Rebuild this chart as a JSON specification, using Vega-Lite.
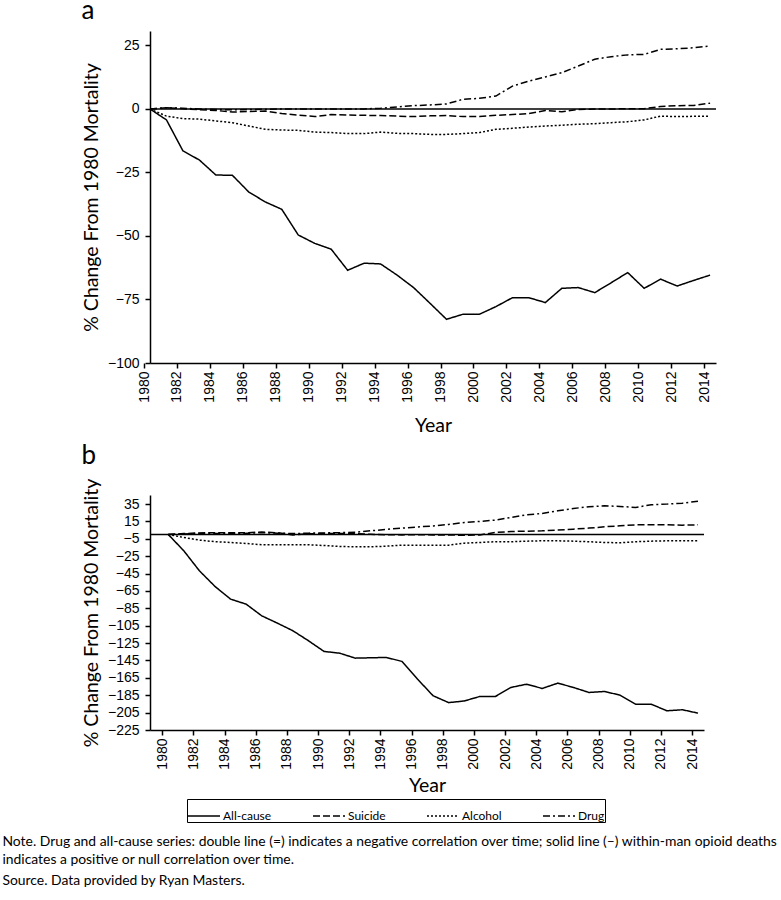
{
  "$schema": "https://vega.github.io/schema/vega-lite/v6.json",
  "padding": {"left": 2, "top": -2, "right": 0, "bottom": 4},
  "background": "white",
  "datasets": {
    "panelA": [
      {"year":1980,"series":"All-cause","value":0},{"year":1981,"series":"All-cause","value":-4.3},{"year":1982,"series":"All-cause","value":-16.5},{"year":1983,"series":"All-cause","value":-20.1},{"year":1984,"series":"All-cause","value":-26},{"year":1985,"series":"All-cause","value":-26.1},{"year":1986,"series":"All-cause","value":-32.7},{"year":1987,"series":"All-cause","value":-36.6},{"year":1988,"series":"All-cause","value":-39.5},{"year":1989,"series":"All-cause","value":-49.6},{"year":1990,"series":"All-cause","value":-52.9},{"year":1991,"series":"All-cause","value":-55.2},{"year":1992,"series":"All-cause","value":-63.5},{"year":1993,"series":"All-cause","value":-60.7},{"year":1994,"series":"All-cause","value":-61},{"year":1995,"series":"All-cause","value":-65.4},{"year":1996,"series":"All-cause","value":-70.3},{"year":1997,"series":"All-cause","value":-76.5},{"year":1998,"series":"All-cause","value":-82.8},{"year":1999,"series":"All-cause","value":-80.8},{"year":2000,"series":"All-cause","value":-80.8},{"year":2001,"series":"All-cause","value":-77.8},{"year":2002,"series":"All-cause","value":-74.3},{"year":2003,"series":"All-cause","value":-74.3},{"year":2004,"series":"All-cause","value":-76.2},{"year":2005,"series":"All-cause","value":-70.6},{"year":2006,"series":"All-cause","value":-70.3},{"year":2007,"series":"All-cause","value":-72.3},{"year":2008,"series":"All-cause","value":-68.4},{"year":2009,"series":"All-cause","value":-64.4},{"year":2010,"series":"All-cause","value":-70.6},{"year":2011,"series":"All-cause","value":-67},{"year":2012,"series":"All-cause","value":-69.7},{"year":2013,"series":"All-cause","value":-67.5},{"year":2014,"series":"All-cause","value":-65.4},
      {"year":1980,"series":"Suicide","value":0},{"year":1981,"series":"Suicide","value":0.5},{"year":1982,"series":"Suicide","value":0.1},{"year":1983,"series":"Suicide","value":-0.3},{"year":1984,"series":"Suicide","value":-0.6},{"year":1985,"series":"Suicide","value":-1.2},{"year":1986,"series":"Suicide","value":-1.0},{"year":1987,"series":"Suicide","value":-0.8},{"year":1988,"series":"Suicide","value":-1.8},{"year":1989,"series":"Suicide","value":-2.4},{"year":1990,"series":"Suicide","value":-3.0},{"year":1991,"series":"Suicide","value":-2.2},{"year":1992,"series":"Suicide","value":-2.4},{"year":1993,"series":"Suicide","value":-2.5},{"year":1994,"series":"Suicide","value":-2.6},{"year":1995,"series":"Suicide","value":-2.8},{"year":1996,"series":"Suicide","value":-3.0},{"year":1997,"series":"Suicide","value":-2.7},{"year":1998,"series":"Suicide","value":-2.6},{"year":1999,"series":"Suicide","value":-3.0},{"year":2000,"series":"Suicide","value":-3.0},{"year":2001,"series":"Suicide","value":-2.5},{"year":2002,"series":"Suicide","value":-2.2},{"year":2003,"series":"Suicide","value":-1.8},{"year":2004,"series":"Suicide","value":-0.6},{"year":2005,"series":"Suicide","value":-1.1},{"year":2006,"series":"Suicide","value":-0.2},{"year":2007,"series":"Suicide","value":0},{"year":2008,"series":"Suicide","value":0},{"year":2009,"series":"Suicide","value":0.1},{"year":2010,"series":"Suicide","value":0.1},{"year":2011,"series":"Suicide","value":1.0},{"year":2012,"series":"Suicide","value":1.3},{"year":2013,"series":"Suicide","value":1.4},{"year":2014,"series":"Suicide","value":2.3},
      {"year":1980,"series":"Alcohol","value":0},{"year":1981,"series":"Alcohol","value":-2.8},{"year":1982,"series":"Alcohol","value":-3.8},{"year":1983,"series":"Alcohol","value":-4},{"year":1984,"series":"Alcohol","value":-4.7},{"year":1985,"series":"Alcohol","value":-5.4},{"year":1986,"series":"Alcohol","value":-6.7},{"year":1987,"series":"Alcohol","value":-8},{"year":1988,"series":"Alcohol","value":-8.3},{"year":1989,"series":"Alcohol","value":-8.4},{"year":1990,"series":"Alcohol","value":-9.1},{"year":1991,"series":"Alcohol","value":-9.3},{"year":1992,"series":"Alcohol","value":-9.7},{"year":1993,"series":"Alcohol","value":-9.7},{"year":1994,"series":"Alcohol","value":-9.1},{"year":1995,"series":"Alcohol","value":-9.6},{"year":1996,"series":"Alcohol","value":-9.7},{"year":1997,"series":"Alcohol","value":-10},{"year":1998,"series":"Alcohol","value":-10},{"year":1999,"series":"Alcohol","value":-9.7},{"year":2000,"series":"Alcohol","value":-9.3},{"year":2001,"series":"Alcohol","value":-8},{"year":2002,"series":"Alcohol","value":-7.6},{"year":2003,"series":"Alcohol","value":-7.1},{"year":2004,"series":"Alcohol","value":-6.7},{"year":2005,"series":"Alcohol","value":-6.4},{"year":2006,"series":"Alcohol","value":-6},{"year":2007,"series":"Alcohol","value":-5.8},{"year":2008,"series":"Alcohol","value":-5.4},{"year":2009,"series":"Alcohol","value":-5},{"year":2010,"series":"Alcohol","value":-4.3},{"year":2011,"series":"Alcohol","value":-2.8},{"year":2012,"series":"Alcohol","value":-3},{"year":2013,"series":"Alcohol","value":-2.9},{"year":2014,"series":"Alcohol","value":-2.8},
      {"year":1980,"series":"Drug","value":0},{"year":1981,"series":"Drug","value":0.5},{"year":1982,"series":"Drug","value":0.3},{"year":1983,"series":"Drug","value":0},{"year":1984,"series":"Drug","value":-0.2},{"year":1985,"series":"Drug","value":-0.3},{"year":1986,"series":"Drug","value":-0.2},{"year":1987,"series":"Drug","value":-0.1},{"year":1988,"series":"Drug","value":0},{"year":1989,"series":"Drug","value":0},{"year":1990,"series":"Drug","value":0},{"year":1991,"series":"Drug","value":0},{"year":1992,"series":"Drug","value":0},{"year":1993,"series":"Drug","value":0},{"year":1994,"series":"Drug","value":0.3},{"year":1995,"series":"Drug","value":0.8},{"year":1996,"series":"Drug","value":1.3},{"year":1997,"series":"Drug","value":1.6},{"year":1998,"series":"Drug","value":2.0},{"year":1999,"series":"Drug","value":3.8},{"year":2000,"series":"Drug","value":4.2},{"year":2001,"series":"Drug","value":5.1},{"year":2002,"series":"Drug","value":9},{"year":2003,"series":"Drug","value":11},{"year":2004,"series":"Drug","value":12.6},{"year":2005,"series":"Drug","value":14.3},{"year":2006,"series":"Drug","value":16.9},{"year":2007,"series":"Drug","value":19.6},{"year":2008,"series":"Drug","value":20.6},{"year":2009,"series":"Drug","value":21.3},{"year":2010,"series":"Drug","value":21.5},{"year":2011,"series":"Drug","value":23.5},{"year":2012,"series":"Drug","value":23.7},{"year":2013,"series":"Drug","value":24.1},{"year":2014,"series":"Drug","value":24.8}
    ],
    "panelB": [
      {"year":1980,"series":"All-cause","value":0},{"year":1981,"series":"All-cause","value":-18.8},{"year":1982,"series":"All-cause","value":-41.8},{"year":1983,"series":"All-cause","value":-59.8},{"year":1984,"series":"All-cause","value":-74.4},{"year":1985,"series":"All-cause","value":-80.2},{"year":1986,"series":"All-cause","value":-93.6},{"year":1987,"series":"All-cause","value":-102},{"year":1988,"series":"All-cause","value":-110.8},{"year":1989,"series":"All-cause","value":-122.3},{"year":1990,"series":"All-cause","value":-134.6},{"year":1991,"series":"All-cause","value":-136.6},{"year":1992,"series":"All-cause","value":-142.3},{"year":1993,"series":"All-cause","value":-141.9},{"year":1994,"series":"All-cause","value":-141.5},{"year":1995,"series":"All-cause","value":-146.1},{"year":1996,"series":"All-cause","value":-166.5},{"year":1997,"series":"All-cause","value":-185.6},{"year":1998,"series":"All-cause","value":-193.5},{"year":1999,"series":"All-cause","value":-191.6},{"year":2000,"series":"All-cause","value":-186.4},{"year":2001,"series":"All-cause","value":-186.4},{"year":2002,"series":"All-cause","value":-176},{"year":2003,"series":"All-cause","value":-172.3},{"year":2004,"series":"All-cause","value":-177.2},{"year":2005,"series":"All-cause","value":-171.1},{"year":2006,"series":"All-cause","value":-176},{"year":2007,"series":"All-cause","value":-181.8},{"year":2008,"series":"All-cause","value":-180.7},{"year":2009,"series":"All-cause","value":-184.9},{"year":2010,"series":"All-cause","value":-195.3},{"year":2011,"series":"All-cause","value":-195.3},{"year":2012,"series":"All-cause","value":-202.9},{"year":2013,"series":"All-cause","value":-201.7},{"year":2014,"series":"All-cause","value":-205.6},
      {"year":1980,"series":"Suicide","value":0},{"year":1981,"series":"Suicide","value":1.0},{"year":1982,"series":"Suicide","value":1.8},{"year":1983,"series":"Suicide","value":2.0},{"year":1984,"series":"Suicide","value":2.0},{"year":1985,"series":"Suicide","value":2.0},{"year":1986,"series":"Suicide","value":2.7},{"year":1987,"series":"Suicide","value":2.0},{"year":1988,"series":"Suicide","value":-0.5},{"year":1989,"series":"Suicide","value":0.8},{"year":1990,"series":"Suicide","value":1.0},{"year":1991,"series":"Suicide","value":1.2},{"year":1992,"series":"Suicide","value":1.0},{"year":1993,"series":"Suicide","value":0.2},{"year":1994,"series":"Suicide","value":-0.3},{"year":1995,"series":"Suicide","value":-0.5},{"year":1996,"series":"Suicide","value":-0.3},{"year":1997,"series":"Suicide","value":-0.5},{"year":1998,"series":"Suicide","value":-0.5},{"year":1999,"series":"Suicide","value":-1.0},{"year":2000,"series":"Suicide","value":-0.5},{"year":2001,"series":"Suicide","value":2.3},{"year":2002,"series":"Suicide","value":3.4},{"year":2003,"series":"Suicide","value":3.8},{"year":2004,"series":"Suicide","value":4.2},{"year":2005,"series":"Suicide","value":5.0},{"year":2006,"series":"Suicide","value":6.1},{"year":2007,"series":"Suicide","value":7.3},{"year":2008,"series":"Suicide","value":8.8},{"year":2009,"series":"Suicide","value":10},{"year":2010,"series":"Suicide","value":11.1},{"year":2011,"series":"Suicide","value":11.1},{"year":2012,"series":"Suicide","value":11.1},{"year":2013,"series":"Suicide","value":10.7},{"year":2014,"series":"Suicide","value":11.1},
      {"year":1980,"series":"Alcohol","value":0},{"year":1981,"series":"Alcohol","value":-3.5},{"year":1982,"series":"Alcohol","value":-6.5},{"year":1983,"series":"Alcohol","value":-8.3},{"year":1984,"series":"Alcohol","value":-9.2},{"year":1985,"series":"Alcohol","value":-10.4},{"year":1986,"series":"Alcohol","value":-11.9},{"year":1987,"series":"Alcohol","value":-11.9},{"year":1988,"series":"Alcohol","value":-11.9},{"year":1989,"series":"Alcohol","value":-11.9},{"year":1990,"series":"Alcohol","value":-12.7},{"year":1991,"series":"Alcohol","value":-13.8},{"year":1992,"series":"Alcohol","value":-14.2},{"year":1993,"series":"Alcohol","value":-14.2},{"year":1994,"series":"Alcohol","value":-13.5},{"year":1995,"series":"Alcohol","value":-12.3},{"year":1996,"series":"Alcohol","value":-12.3},{"year":1997,"series":"Alcohol","value":-12.3},{"year":1998,"series":"Alcohol","value":-12.3},{"year":1999,"series":"Alcohol","value":-10},{"year":2000,"series":"Alcohol","value":-9.2},{"year":2001,"series":"Alcohol","value":-8.4},{"year":2002,"series":"Alcohol","value":-8.4},{"year":2003,"series":"Alcohol","value":-7.7},{"year":2004,"series":"Alcohol","value":-7.3},{"year":2005,"series":"Alcohol","value":-7.3},{"year":2006,"series":"Alcohol","value":-7.7},{"year":2007,"series":"Alcohol","value":-8.4},{"year":2008,"series":"Alcohol","value":-9.2},{"year":2009,"series":"Alcohol","value":-9.6},{"year":2010,"series":"Alcohol","value":-8.4},{"year":2011,"series":"Alcohol","value":-7.7},{"year":2012,"series":"Alcohol","value":-7.3},{"year":2013,"series":"Alcohol","value":-7.3},{"year":2014,"series":"Alcohol","value":-7.3},
      {"year":1980,"series":"Drug","value":0},{"year":1981,"series":"Drug","value":0.5},{"year":1982,"series":"Drug","value":1.2},{"year":1983,"series":"Drug","value":1.2},{"year":1984,"series":"Drug","value":1.0},{"year":1985,"series":"Drug","value":1.3},{"year":1986,"series":"Drug","value":2.0},{"year":1987,"series":"Drug","value":1.5},{"year":1988,"series":"Drug","value":1.0},{"year":1989,"series":"Drug","value":1.5},{"year":1990,"series":"Drug","value":1.8},{"year":1991,"series":"Drug","value":2.0},{"year":1992,"series":"Drug","value":2.5},{"year":1993,"series":"Drug","value":4.2},{"year":1994,"series":"Drug","value":5.8},{"year":1995,"series":"Drug","value":7.3},{"year":1996,"series":"Drug","value":8.6},{"year":1997,"series":"Drug","value":9.8},{"year":1998,"series":"Drug","value":11.5},{"year":1999,"series":"Drug","value":13.8},{"year":2000,"series":"Drug","value":15},{"year":2001,"series":"Drug","value":16.5},{"year":2002,"series":"Drug","value":19.6},{"year":2003,"series":"Drug","value":22.6},{"year":2004,"series":"Drug","value":24.2},{"year":2005,"series":"Drug","value":27.2},{"year":2006,"series":"Drug","value":29.9},{"year":2007,"series":"Drug","value":31.9},{"year":2008,"series":"Drug","value":33},{"year":2009,"series":"Drug","value":32.2},{"year":2010,"series":"Drug","value":31.1},{"year":2011,"series":"Drug","value":34.2},{"year":2012,"series":"Drug","value":34.9},{"year":2013,"series":"Drug","value":36},{"year":2014,"series":"Drug","value":38.3}
    ]
  },
  "title": {
    "text": ["Note. Drug and all-cause series: double line (=) indicates a negative correlation over time; solid line (–) within-man opioid deaths", "indicates a positive or null correlation over time."],
    "subtitle": "Source. Data provided by Ryan Masters.",
    "orient": "bottom",
    "anchor": "start",
    "frame": "bounds",
    "dx": -79,
    "offset": 12,
    "font": "Lato",
    "fontSize": 13.9,
    "fontWeight": "normal",
    "color": "black",
    "lineHeight": 18,
    "subtitleFont": "Lato",
    "subtitleFontSize": 13.9,
    "subtitleColor": "black",
    "subtitlePadding": 8
  },
  "spacing": 8,
  "resolve": {
    "scale": {"x": "independent", "y": "independent", "strokeDash": "independent"},
    "legend": {"strokeDash": "independent"}
  },
  "vconcat": [
    {
      "title": {"text": "a", "anchor": "start", "frame": "bounds", "baseline": "alphabetic", "offset": -14, "font": "Lato", "fontSize": 26, "fontWeight": "normal", "color": "black"},
      "width": 566,
      "height": 332,
      "layer": [
        {
          "data": {"values": [{"zero": 0}]},
          "mark": {"type": "rule", "color": "black", "strokeWidth": 1.5},
          "encoding": {"y": {"field": "zero", "type": "quantitative"}}
        },
        {
          "data": {"name": "panelA"},
          "mark": {"type": "line", "color": "black", "strokeWidth": 1.5},
          "encoding": {
            "x": {"field": "year", "type": "quantitative", "scale": {"domain": [1980, 2014.36], "nice": false, "zero": false},
                  "axis": {"values": [1980,1982,1984,1986,1988,1990,1992,1994,1996,1998,2000,2002,2004,2006,2008,2010,2012,2014], "tickCount": 40, "format": "d", "labelAngle": -90, "tickOffset": -6, "title": "Year", "titlePadding": 14}},
            "y": {"field": "value", "type": "quantitative", "scale": {"domain": [-100, 30.7], "nice": false, "zero": false},
                  "axis": {"values": [-100,-75,-50,-25,0,25], "tickCount": 40, "labelOverlap": false, "title": "% Change From 1980 Mortality"}},
            "strokeDash": {"field": "series", "type": "nominal",
                  "scale": {"domain": ["All-cause","Suicide","Alcohol","Drug"], "range": [[1,0],[7,3],[2,2],[7,3,2,3]]},
                  "legend": null}
          }
        }
      ]
    },
    {
      "title": {"text": "b", "anchor": "start", "frame": "bounds", "baseline": "alphabetic", "offset": -12, "font": "Lato", "fontSize": 26, "fontWeight": "normal", "color": "black"},
      "width": 554,
      "height": 235,
      "layer": [
        {
          "data": {"values": [{"zero": 0}]},
          "mark": {"type": "rule", "color": "black", "strokeWidth": 1.5},
          "encoding": {"y": {"field": "zero", "type": "quantitative"}}
        },
        {
          "data": {"name": "panelB"},
          "mark": {"type": "line", "color": "black", "strokeWidth": 1.5},
          "encoding": {
            "x": {"field": "year", "type": "quantitative", "scale": {"domain": [1978.83, 2014.385], "nice": false, "zero": false},
                  "axis": {"values": [1980,1982,1984,1986,1988,1990,1992,1994,1996,1998,2000,2002,2004,2006,2008,2010,2012,2014], "tickCount": 40, "format": "d", "labelAngle": -90, "tickOffset": -6, "title": "Year", "titlePadding": 7}},
            "y": {"field": "value", "type": "quantitative", "scale": {"domain": [-225, 45.4], "nice": false, "zero": false},
                  "axis": {"values": [-225,-205,-185,-165,-145,-125,-105,-85,-65,-45,-25,-5,15,35], "tickCount": 40, "labelOverlap": false, "labelSeparation": 0, "title": "% Change From 1980 Mortality"}},
            "strokeDash": {"field": "series", "type": "nominal",
                  "scale": {"domain": ["All-cause","Suicide","Alcohol","Drug"], "range": [[1,0],[7,3],[2,2],[7,3,2,3]]},
                  "legend": {"orient": "none", "legendX": 37, "legendY": 304, "direction": "horizontal", "title": null,
                             "symbolType": "stroke", "symbolSize": 1024, "symbolStrokeWidth": 1.5, "symbolStrokeColor": "black",
                             "strokeColor": "black", "padding": 0, "labelFont": "Lato", "labelFontSize": 12, "labelColor": "black",
                             "labelOffset": 2, "columnPadding": 38}}
          }
        }
      ]
    }
  ],
  "config": {
    "view": {"stroke": null},
    "font": "Lato",
    "axis": {"domainColor": "black", "domainWidth": 1.5, "tickColor": "black", "tickWidth": 1.5, "tickSize": 5,
             "labelColor": "black", "labelFont": "Liberation Sans", "labelFontSize": 14, "labelOverlap": false,
             "titleColor": "black", "titleFont": "Lato", "titleFontSize": 19.5, "titleFontWeight": "normal", "grid": false},
    "axisX": {"labelPadding": 3},
    "axisY": {"labelPadding": 6, "titlePadding": 6}
  }
}
